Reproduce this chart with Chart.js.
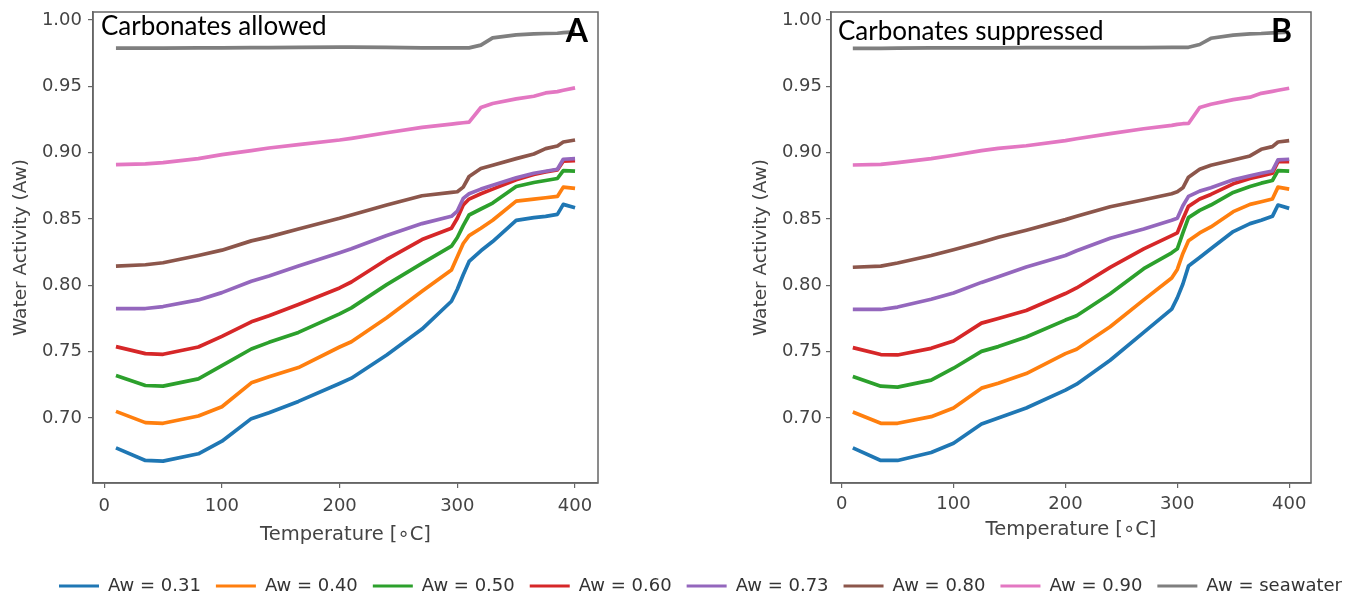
<!DOCTYPE html>
<html>
<head>
<meta charset="utf-8">
<script src="https://cdn.jsdelivr.net/npm/chart.js@4.4.1/dist/chart.umd.min.js"></script>
<style>
  html, body { margin: 0; padding: 0; background: #fff; }
  body { width: 1345px; height: 597px; position: relative; overflow: hidden; }
  .box { position: absolute; }
</style>
</head>
<body>
<div class="box" style="left:0px;top:0px;width:610px;height:560px"><canvas id="chartA"></canvas></div>
<div class="box" style="left:740px;top:0px;width:590px;height:560px"><canvas id="chartB"></canvas></div>
<div class="box" style="left:44px;top:562px;width:1320px;height:110px"><canvas id="legend"></canvas></div>
<script>
// temperatures (°C) shared by every curve
const temps = [10, 35, 50, 80, 100, 125, 140, 165, 200, 210, 240, 270, 295, 300, 305, 310, 320, 330, 350, 365, 375, 385, 390, 400]

const seriesLabels = ['Aw = 0.31', 'Aw = 0.40', 'Aw = 0.50', 'Aw = 0.60', 'Aw = 0.73', 'Aw = 0.80', 'Aw = 0.90', 'Aw = seawater']
const seriesColors = ['#1f77b4', '#ff7f0e', '#2ca02c', '#d62728', '#9467bd', '#8c564b', '#e377c2', '#7f7f7f']

const tempTicks = [0, 100, 200, 300, 400]
const awTicks = [0.70, 0.75, 0.80, 0.85, 0.90, 0.95, 1.00]

// panel A: carbonates allowed
const aw031Allowed = [0.6775, 0.668, 0.6675, 0.673, 0.6825, 0.6995, 0.704, 0.7125, 0.726, 0.730, 0.7475, 0.767, 0.788, 0.797, 0.808, 0.818, 0.826, 0.833, 0.849, 0.851, 0.852, 0.8535, 0.861, 0.8585]
const aw040Allowed = [0.705, 0.6965, 0.696, 0.7015, 0.7085, 0.7265, 0.731, 0.738, 0.7535, 0.7575, 0.7755, 0.7955, 0.8115, 0.8215, 0.8315, 0.8375, 0.843, 0.849, 0.8635, 0.865, 0.866, 0.867, 0.874, 0.873]
const aw050Allowed = [0.732, 0.7245, 0.724, 0.7295, 0.7395, 0.752, 0.757, 0.7645, 0.7785, 0.783, 0.8005, 0.8165, 0.8295, 0.836, 0.845, 0.853, 0.8575, 0.862, 0.8745, 0.8775, 0.879, 0.8805, 0.8865, 0.886]
const aw060Allowed = [0.7538, 0.7485, 0.748, 0.7535, 0.7615, 0.7725, 0.777, 0.7855, 0.798, 0.8025, 0.8195, 0.8345, 0.843, 0.8505, 0.8605, 0.865, 0.869, 0.8725, 0.8795, 0.8835, 0.8855, 0.887, 0.8935, 0.894]
const aw073Allowed = [0.7825, 0.7825, 0.784, 0.789, 0.7945, 0.803, 0.807, 0.8145, 0.8245, 0.8275, 0.8375, 0.8465, 0.852, 0.856, 0.8655, 0.869, 0.8725, 0.8755, 0.881, 0.8845, 0.886, 0.8875, 0.895, 0.8955]
const aw080Allowed = [0.8145, 0.8155, 0.817, 0.8225, 0.8265, 0.8335, 0.8365, 0.8425, 0.8505, 0.853, 0.8605, 0.8675, 0.870, 0.8705, 0.874, 0.882, 0.888, 0.8905, 0.8955, 0.899, 0.903, 0.905, 0.908, 0.9095]
const aw090Allowed = [0.891, 0.8915, 0.8925, 0.8955, 0.8985, 0.9015, 0.9035, 0.906, 0.9095, 0.9108, 0.915, 0.919, 0.9215, 0.922, 0.9225, 0.923, 0.934, 0.937, 0.9405, 0.9425, 0.945, 0.946, 0.947, 0.9488]
const seawaterAllowed = [0.9788, 0.9788, 0.9788, 0.979, 0.979, 0.9792, 0.9792, 0.9793, 0.9795, 0.9795, 0.9793, 0.979, 0.979, 0.979, 0.979, 0.979, 0.981, 0.9865, 0.9888, 0.9895, 0.9898, 0.990, 0.9905, 0.991]

// panel B: carbonates suppressed
const aw031Suppressed = [0.6775, 0.668, 0.668, 0.674, 0.681, 0.6955, 0.700, 0.7075, 0.721, 0.7255, 0.7435, 0.7645, 0.782, 0.7905, 0.801, 0.8145, 0.821, 0.8275, 0.8405, 0.8465, 0.849, 0.852, 0.8605, 0.858]
const aw040Suppressed = [0.7045, 0.696, 0.696, 0.701, 0.7075, 0.7225, 0.7262, 0.7335, 0.7485, 0.7518, 0.7688, 0.789, 0.8055, 0.812, 0.824, 0.8335, 0.8395, 0.844, 0.8555, 0.861, 0.863, 0.865, 0.874, 0.8725]
const aw050Suppressed = [0.7313, 0.724, 0.7233, 0.7285, 0.7375, 0.7502, 0.7538, 0.761, 0.7738, 0.777, 0.7937, 0.8125, 0.8245, 0.8275, 0.8395, 0.851, 0.8565, 0.8605, 0.870, 0.8745, 0.877, 0.879, 0.8865, 0.886]
const aw060Suppressed = [0.753, 0.7478, 0.7475, 0.7525, 0.758, 0.7715, 0.775, 0.781, 0.7938, 0.798, 0.8135, 0.8275, 0.8375, 0.8395, 0.850, 0.8595, 0.865, 0.8685, 0.8765, 0.8805, 0.8825, 0.8845, 0.8932, 0.8932]
const aw073Suppressed = [0.7818, 0.7818, 0.7836, 0.7895, 0.7942, 0.8022, 0.8065, 0.8138, 0.8225, 0.826, 0.8355, 0.8425, 0.849, 0.8505, 0.860, 0.867, 0.871, 0.8735, 0.8795, 0.8825, 0.8845, 0.8862, 0.8945, 0.895]
const aw080Suppressed = [0.8136, 0.8145, 0.8168, 0.8225, 0.8268, 0.8325, 0.8362, 0.8415, 0.8495, 0.852, 0.8592, 0.8645, 0.869, 0.8705, 0.8735, 0.8815, 0.8875, 0.8905, 0.8945, 0.8975, 0.9025, 0.9045, 0.908, 0.909]
const aw090Suppressed = [0.8907, 0.8912, 0.8925, 0.8955, 0.898, 0.9015, 0.9032, 0.9052, 0.909, 0.9105, 0.9143, 0.918, 0.9205, 0.9213, 0.9218, 0.922, 0.934, 0.9365, 0.940, 0.9418, 0.9447, 0.9462, 0.947, 0.9485]
const seawaterSuppressed = [0.9786, 0.9786, 0.9788, 0.9789, 0.979, 0.979, 0.979, 0.9791, 0.9792, 0.9792, 0.9792, 0.9792, 0.9793, 0.9793, 0.9794, 0.9794, 0.9815, 0.9862, 0.9886, 0.9895, 0.9898, 0.9903, 0.9905, 0.9908]

const allowedSeries = [aw031Allowed, aw040Allowed, aw050Allowed, aw060Allowed, aw073Allowed, aw080Allowed, aw090Allowed, seawaterAllowed]
const suppressedSeries = [aw031Suppressed, aw040Suppressed, aw050Suppressed, aw060Suppressed, aw073Suppressed, aw080Suppressed, aw090Suppressed, seawaterSuppressed]

const tickColor = '#444'
const frameColor = '#666'

// draws the full matplotlib-style box plus the panel caption and letter
const panelText = {
  id: 'panelText',
  afterDraw(chart, args, opts) {
    const { ctx, chartArea: a } = chart
    ctx.save()
    ctx.strokeStyle = frameColor
    ctx.lineWidth = 1.5
    ctx.strokeRect(a.left, a.top, a.right - a.left, a.bottom - a.top)
    ctx.fillStyle = '#000'
    ctx.textBaseline = 'alphabetic'
    ctx.font = '26px Lato'
    ctx.textAlign = 'left'
    ctx.fillText(opts.title, a.left + opts.titleDx, a.top + opts.titleDy)
    ctx.font = 'bold 32px Lato'
    ctx.textAlign = 'right'
    ctx.fillText(opts.letter, a.right - opts.letterDx, a.top + 30)
    ctx.restore()
  }
}

function makePanel(canvasId, series, opts) {
  const datasets = series.map((vals, i) => ({
    label: seriesLabels[i],
    data: temps.map((t, j) => ({ x: t, y: vals[j] })),
    borderColor: seriesColors[i],
    backgroundColor: seriesColors[i],
    borderWidth: 3.7,
    pointRadius: 0,
    tension: 0,
    borderJoinStyle: 'round',
    borderCapStyle: 'butt',
    order: series.length - i
  }))

  return new Chart(document.getElementById(canvasId), {
    type: 'line',
    data: { datasets: datasets },
    plugins: [panelText],
    options: {
      responsive: true,
      maintainAspectRatio: false,
      animation: false,
      layout: { padding: { top: 12, right: opts.padRight, left: 0, bottom: 0 } },
      plugins: {
        legend: { display: false },
        tooltip: { enabled: false },
        panelText: opts.text
      },
      scales: {
        x: {
          type: 'linear',
          min: -9.5,
          max: 419.5,
          afterBuildTicks: (scale) => { scale.ticks = tempTicks.map(v => ({ value: v })) },
          afterFit: (scale) => { scale.height = 77 },
          grid: { drawOnChartArea: false, drawTicks: true, tickLength: 5, color: frameColor, lineWidth: 1.2 },
          border: { display: true, color: frameColor, width: 1.5 },
          ticks: { color: tickColor, font: { family: 'DejaVu Sans', size: 18 }, padding: opts.xTickPad, maxRotation: 0 },
          title: {
            display: true,
            text: 'Temperature [∘C]',
            color: tickColor,
            font: { family: 'DejaVu Sans', size: 19.5 },
            padding: { top: 0, bottom: opts.xTitlePad }
          }
        },
        y: {
          type: 'linear',
          min: 0.651,
          max: 1.006,
          afterBuildTicks: (scale) => { scale.ticks = awTicks.map(v => ({ value: v })) },
          afterFit: (scale) => {
            scale.width = opts.yWidth
            scale.paddingTop = 0
            scale.paddingBottom = 0
          },
          grid: { drawOnChartArea: false, drawTicks: true, tickLength: 5, color: frameColor, lineWidth: 1.2 },
          border: { display: true, color: frameColor, width: 1.5 },
          ticks: { color: tickColor, font: { family: 'DejaVu Sans', size: 18 }, padding: opts.yTickPad, callback: v => v.toFixed(2) },
          title: {
            display: true,
            text: 'Water Activity (Aw)',
            color: tickColor,
            font: { family: 'DejaVu Sans', size: 18.5 },
            padding: { top: 10, bottom: 0 }
          }
        }
      }
    }
  })
}

makePanel('chartA', allowedSeries, {
  padRight: 12, yWidth: 93, xTickPad: 8, xTitlePad: 13, yTickPad: 6,
  text: { title: 'Carbonates allowed', letter: 'A', titleDx: 8, titleDy: 23, letterDx: 10 }
})
makePanel('chartB', suppressedSeries, {
  padRight: 19, yWidth: 91, xTickPad: 6, xTitlePad: 18, yTickPad: 4,
  text: { title: 'Carbonates suppressed', letter: 'B', titleDx: 7, titleDy: 28, letterDx: 19 }
})

// shared legend along the bottom, drawn by its own chart with no data
new Chart(document.getElementById('legend'), {
  type: 'line',
  data: {
    datasets: seriesLabels.map((label, i) => ({
      label: label,
      data: [],
      borderColor: seriesColors[i],
      backgroundColor: seriesColors[i],
      borderWidth: 0
    }))
  },
  options: {
    responsive: true,
    maintainAspectRatio: false,
    animation: false,
    layout: { padding: 0 },
    scales: { x: { display: false }, y: { display: false } },
    plugins: {
      tooltip: { enabled: false },
      legend: {
        display: true,
        position: 'top',
        align: 'start',
        onClick: null,
        labels: {
          boxWidth: 40,
          boxHeight: 3,
          padding: 15,
          color: '#333',
          font: { family: 'DejaVu Sans', size: 18 }
        }
      }
    }
  }
})
</script>
</body>
</html>
